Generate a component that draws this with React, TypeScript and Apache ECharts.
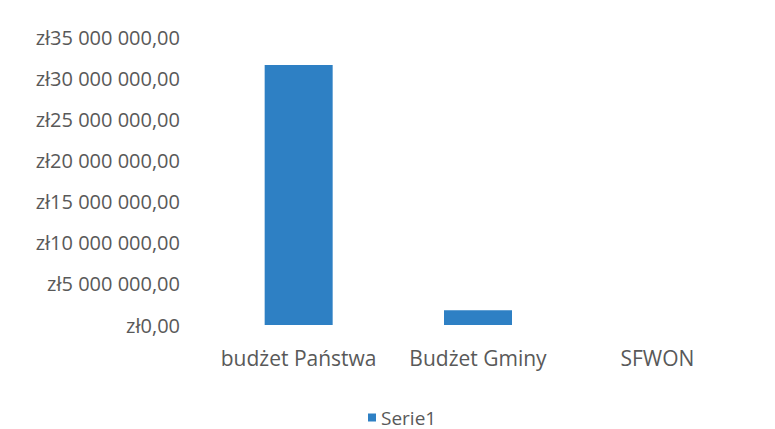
import React, { useEffect, useRef } from "react";
import * as echarts from "echarts";

const categories = ["budżet Państwa", "Budżet Gminy", "SFWON"];
const serieName = "Serie1";
const serieValues = [31600000, 1800000, 0];
const yMin = 0;
const yMax = 35000000;
const yStep = 5000000;

function formatPLN(v: number): string {
  const s = Math.round(v).toString().replace(/\B(?=(\d{3})+(?!\d))/g, " ");
  return "zł" + s + ",00";
}

export default function App() {
  const ref = useRef<HTMLDivElement>(null);
  useEffect(() => {
    document.body.style.margin = "0";
    const chart = echarts.init(ref.current!, null, { renderer: "svg" });
    const font = "'Open Sans', sans-serif";
    chart.setOption({
      animation: false,
      backgroundColor: "#ffffff",
      textStyle: { fontFamily: font },
      grid: { left: 209, right: 28, top: 37, bottom: 104 },
      legend: {
        data: [serieName],
        top: 408,
        left: 368,
        padding: 0,
        icon: "rect",
        itemWidth: 8,
        itemHeight: 8,
        itemGap: 10,
        textStyle: { color: "#595959", fontSize: 19, lineHeight: 18, fontFamily: font },
      },
      xAxis: {
        type: "category",
        data: categories,
        axisLine: { show: false },
        axisTick: { show: false },
        axisLabel: { color: "#595959", fontSize: 21, margin: 22, interval: 0, fontFamily: font },
      },
      yAxis: {
        type: "value",
        min: yMin,
        max: yMax,
        interval: yStep,
        axisLine: { show: false },
        axisTick: { show: false },
        splitLine: { show: false },
        axisLabel: {
          color: "#595959",
          fontSize: 20,
          margin: 29,
          fontFamily: font,
          formatter: (v: number) => formatPLN(v),
        },
      },
      series: [
        {
          name: serieName,
          type: "bar",
          data: serieValues,
          barWidth: 68,
          itemStyle: { color: "#2E80C4" },
        },
      ],
    });
    return () => chart.dispose();
  }, []);
  return <div ref={ref} style={{ width: 775, height: 429 }} />;
}
